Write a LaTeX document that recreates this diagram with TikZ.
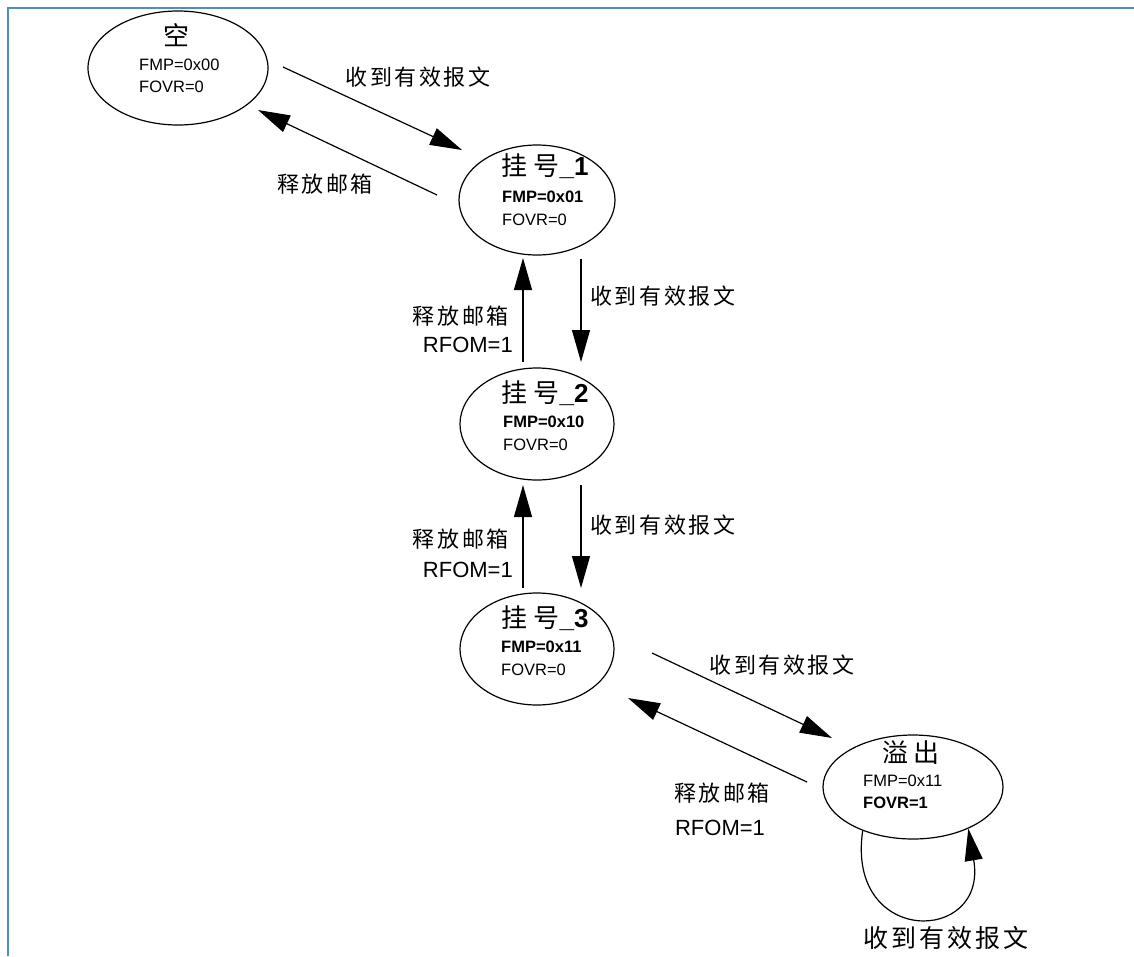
\documentclass[tikz,border=0pt]{standalone}
\usepackage{fontspec}
\setmainfont{Liberation Sans}
\newfontfamily\cjk[LetterSpace=12]{Noto Sans CJK SC}
\newfontfamily\cjktitle{Noto Sans CJK SC}
\usetikzlibrary{shapes.geometric, arrows.meta, positioning, calc}
\definecolor{frameblue}{RGB}{74,144,200}

\begin{document}
\begin{tikzpicture}[
      x=1pt, y=-1pt,
      state/.style={ellipse, draw=black, line width=1.2pt, inner sep=0pt},
      title/.style={inner sep=0pt, font=\cjktitle\fontsize{26}{30}\selectfont},
      info/.style={inner sep=0pt, align=left, anchor=west,
                   font=\fontsize{16.5}{22.5}\selectfont},
      evt/.style={inner sep=0pt, font=\cjk\fontsize{22}{26}\selectfont},
      rfom/.style={inner sep=0pt, font=\fontsize{22}{26}\selectfont},
      arr/.style={-{Triangle[length=32pt, width=18pt]}, line width=1.2pt}
    ]
    \useasboundingbox (0,0) rectangle (1134,956);

    % Frame
    \draw[frameblue, line width=2pt] (8,956) -- (8,8) -- (1134,8);

    % States
    \node[state, minimum width=180pt, minimum height=114pt] (s0) at (178,68) {};
    \node[state, minimum width=156pt, minimum height=110pt] (s1) at (537,200) {};
    \node[state, minimum width=154pt, minimum height=112pt] (s2) at (537,424) {};
    \node[state, minimum width=154pt, minimum height=112pt] (s3) at (537,649) {};
    \node[state, minimum width=180pt, minimum height=104pt] (s4) at (913,787) {};

    % State texts
    \node[title] (t0) at ([shift={(-2,-33)}]s0.center) {空};
    \node[info] (i0) at ([shift={(-39,8)}]s0.center) {FMP=0x00\\FOVR=0};
    \node[title] (t1) at ([shift={(8,-34)}]s1.center) {挂\hspace{6pt}号{\rmfamily\bfseries\_1}};
    \node[info] (i1) at ([shift={(-35,8.5)}]s1.center) {\textbf{FMP=0x01}\\FOVR=0};
    \node[title] (t2) at ([shift={(8,-31)}]s2.center) {挂\hspace{6pt}号{\rmfamily\bfseries\_2}};
    \node[info] (i2) at ([shift={(-34,9.5)}]s2.center) {\textbf{FMP=0x10}\\FOVR=0};
    \node[title] (t3) at ([shift={(8,-31)}]s3.center) {挂\hspace{6pt}号{\rmfamily\bfseries\_3}};
    \node[info] (i3) at ([shift={(-36,9.5)}]s3.center) {\textbf{FMP=0x11}\\FOVR=0};
    \node[title] (t4) at ([shift={(-2,-34)}]s4.center) {溢\hspace{6pt}出};
    \node[info] (i4) at ([shift={(-50,5)}]s4.center) {FMP=0x11\\\textbf{FOVR=1}};

    % Event labels
    \node[evt] (e01) at (418,77) {收到有效报文};
    \node[evt] (r10) at (325,184) {释放邮箱};
    \node[evt, anchor=west] (e12) at (590,296) {收到有效报文};
    \node[evt, anchor=east] (r21) at (509,316) {释放邮箱};
    \node[rfom, anchor=east] (f21) at (513,345) {RFOM=1};
    \node[evt, anchor=west] (e23) at (590,525) {收到有效报文};
    \node[evt, anchor=east] (r32) at (509,539) {释放邮箱};
    \node[rfom, anchor=east] (f32) at (513,570) {RFOM=1};
    \node[evt] (e34) at (782,665) {收到有效报文};
    \node[evt] (r43) at (722,793) {释放邮箱};
    \node[rfom] (f43) at (720,828) {RFOM=1};
    \node[evt, font=\cjk\fontsize{25}{29}\selectfont] (e44) at (946,938) {收到有效报文};

    % Transitions
    \draw[arr] ([shift={(105,-1)}]s0.center) -- ([shift={(-75,-50)}]s1.center);
    \draw[arr] ([shift={(-100,-5)}]s1.center) -- ([shift={(80,42)}]s0.center);
    \draw[arr] ([shift={(44,59)}]s1.center) -- ([shift={(44,-62)}]s2.center);
    \draw[arr] ([shift={(-14,-62)}]s2.center) -- ([shift={(-14,58)}]s1.center);
    \draw[arr] ([shift={(44,61)}]s2.center) -- ([shift={(44,-61)}]s3.center);
    \draw[arr] ([shift={(-14,-61)}]s3.center) -- ([shift={(-14,61)}]s2.center);
    \draw[arr] ([shift={(115,4)}]s3.center) -- ([shift={(-81,-49)}]s4.center);
    \draw[arr] ([shift={(-106,-5)}]s4.center) -- ([shift={(91,49)}]s3.center);
    \draw[arr] (s4.-139) .. controls +(-17,116) and +(20,116) .. (s4.-37);
  \end{tikzpicture}
\end{document}
